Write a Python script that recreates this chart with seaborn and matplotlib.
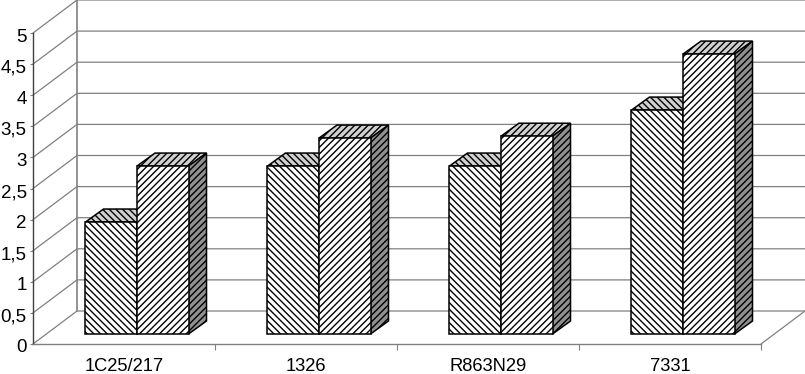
import numpy as np
import pandas as pd
import matplotlib
matplotlib.use("Agg")
import matplotlib.pyplot as plt
from matplotlib.patches import Polygon
from matplotlib.transforms import ScaledTranslation
import seaborn as sns

categories = ["1C25/217", "1326", "R863N29", "7331"]
series_a = [1.8, 2.7, 2.7, 3.6]
series_b = [2.7, 3.15, 3.18, 4.5]
y_ticks = [0, 0.5, 1, 1.5, 2, 2.5, 3, 3.5, 4, 4.5, 5]

W, H = 805, 374
BAND = 182.0     # px per category
UNIT = 62.2      # px per y unit
GREY = "#808080"

sns.set_theme(style="white")
plt.rcParams["font.family"] = ["Liberation Sans", "DejaVu Sans"]
plt.rcParams["hatch.linewidth"] = 1.0


def place(fig, left, base):
    # axes rectangle from the pixel position of its left edge and its y=0 line
    return fig.add_axes([left / W, (H - base) / H, 4 * BAND / W, 5 * UNIT / H])


fig = plt.figure(figsize=(W / 100, H / 100), dpi=100)
ax = place(fig, 33, 344)
ax.set_xlim(-0.5, 3.5)
ax.set_ylim(0, 5)

# back wall and floor, in the units of the front plane
wall_dx, wall_dy = 44 / BAND, 33 / UNIT
for t in y_ticks:
    ax.plot([-0.5, -0.5 + wall_dx, 3.5 + wall_dx], [t, t + wall_dy, t + wall_dy],
            color=GREY, lw=0.9, clip_on=False, zorder=1)
ax.plot([-0.5 + wall_dx] * 2, [wall_dy, 5 + wall_dy], color=GREY, lw=1.2, clip_on=False)
ax.plot([3.5, 3.5 + wall_dx], [0, wall_dy], color=GREY, lw=0.9, clip_on=False)

for s in ["top", "right"]:
    ax.spines[s].set_visible(False)
ax.spines["left"].set_color("#404040")
ax.spines["bottom"].set_color(GREY)
ax.spines["left"].set_linewidth(1.0)
ax.spines["bottom"].set_linewidth(1.0)
ax.set_yticks(y_ticks)
ax.set_yticklabels([f"{t:g}".replace(".", ",") for t in y_ticks], fontsize=13.5, color="black")
ax.tick_params(axis="y", left=True, length=2.5, width=0.8, color=GREY, pad=2)
# the y labels sit a little under their gridlines in the reference
for lab in ax.get_yticklabels():
    lab.set_transform(lab.get_transform() + ScaledTranslation(0, -2 / 100, fig.dpi_scale_trans))
ax.set_xticks(np.arange(4) + 0.5)
ax.set_xticklabels([])
ax.set_xticks(np.arange(4), labels=categories, minor=True, fontsize=13.2, color="black")
ax.tick_params(axis="x", which="major", bottom=True, length=4.5, width=0.8, color=GREY)
ax.tick_params(axis="x", which="minor", bottom=False, length=0, pad=10)

# the bars stand on the floor, a little behind the front plane
bar_ax = place(fig, 46, 334)
bar_ax.patch.set_alpha(0)
df = pd.DataFrame({
    "category": categories * 2,
    "value": series_a + series_b,
    "series": ["a"] * 4 + ["b"] * 4,
})
sns.barplot(data=df, x="category", y="value", hue="series", ax=bar_ax,
            palette=["white", "white"], edgecolor="black", linewidth=1.1,
            width=0.566, gap=0, saturation=1, legend=False, zorder=2)
bar_ax.set_xlim(-0.5, 3.5)
bar_ax.set_ylim(0, 5)
bar_ax.axis("off")

depth_dx, depth_dy = 18 / BAND, 13 / UNIT
hatches = ["\\" * 5, "/" * 5]
for container, hatch in zip(bar_ax.containers, hatches):
    for bar in container:
        bar.set_hatch(hatch)
        bar.set_clip_on(False)
        x0, x1 = bar.get_x(), bar.get_x() + bar.get_width()
        y1 = bar.get_height()
        top = [(x0, y1), (x1, y1), (x1 + depth_dx, y1 + depth_dy), (x0 + depth_dx, y1 + depth_dy)]
        side = [(x1, 0), (x1 + depth_dx, depth_dy), (x1 + depth_dx, y1 + depth_dy), (x1, y1)]
        bar_ax.add_patch(Polygon(top, facecolor="#d0d0d0", edgecolor="black", lw=1.1,
                                 hatch=hatch, zorder=1, clip_on=False))
        bar_ax.add_patch(Polygon(side, facecolor="#909090", edgecolor="black", lw=1.1,
                                 hatch=hatch, zorder=1, clip_on=False))

fig.savefig("out.png", dpi=100, facecolor="white")
